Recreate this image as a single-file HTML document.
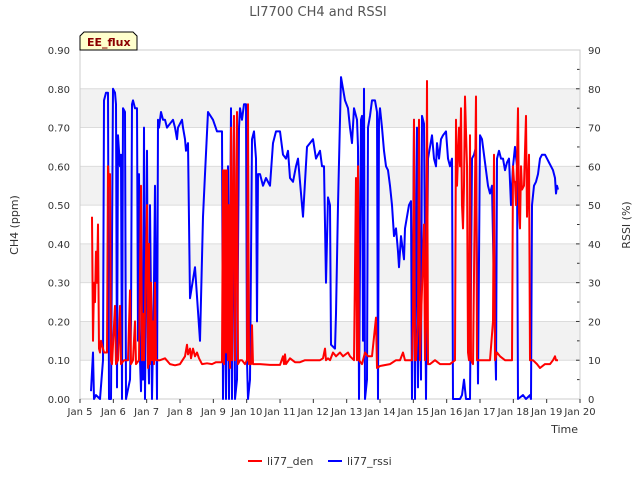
<!DOCTYPE html>
<html><head><meta charset="utf-8"><style>
body{margin:0;background:#fff;}
svg text{font-family:"DejaVu Sans","Liberation Sans",sans-serif;}
</style></head><body>
<svg id="chart" width="640" height="480" xmlns="http://www.w3.org/2000/svg">
<text x="318" y="16" text-anchor="middle" font-size="13" fill="#555">LI7700 CH4 and RSSI</text>
<g id="bands"></g>
<g id="axes"></g>
<g id="series"></g>
<g>
<path d="M84,32 L133,32 L137,36 L137,50 L80,50 L80,36 Z" fill="#ffffcc" stroke="#000" stroke-width="1"/>
<text x="87" y="46" font-size="11" font-weight="bold" fill="#8b0000">EE_flux</text>
</g>
<text transform="translate(18,225) rotate(-90)" text-anchor="middle" font-size="11" fill="#333">CH4 (ppm)</text>
<text transform="translate(630,225) rotate(-90)" text-anchor="middle" font-size="11" fill="#333">RSSI (%)</text>
<text x="578" y="433" text-anchor="end" font-size="11" fill="#333">Time</text>
<g>
<line x1="248" y1="461" x2="262" y2="461" stroke="#ff0000" stroke-width="2"/>
<text x="267" y="465" font-size="11" fill="#333">li77_den</text>
</g>
<g>
<line x1="328" y1="461" x2="342" y2="461" stroke="#0000ff" stroke-width="2"/>
<text x="347" y="465" font-size="11" fill="#333">li77_rssi</text>
</g>
</svg>
<script>
const xTickLabels=["Jan 5","Jan 6","Jan 7","Jan 8","Jan 9","Jan 10","Jan 11","Jan 12","Jan 13","Jan 14","Jan 15","Jan 16","Jan 17","Jan 18","Jan 19","Jan 20"];
const leftTicks=[0,0.1,0.2,0.3,0.4,0.5,0.6,0.7,0.8,0.9];
const rightTicks=[0,10,20,30,40,50,60,70,80,90];
const rssiT=[5.33,5.39,5.42,5.48,5.6,5.69,5.72,5.78,5.84,5.87,5.93,5.99,6.05,6.08,6.11,6.14,6.2,6.23,6.26,6.29,6.35,6.38,6.5,6.53,6.56,6.59,6.65,6.71,6.74,6.77,6.8,6.83,6.86,6.89,6.92,6.95,7.01,7.04,7.07,7.1,7.16,7.22,7.25,7.31,7.34,7.37,7.43,7.49,7.55,7.61,7.7,7.79,7.85,7.91,7.94,8.0,8.06,8.09,8.15,8.18,8.24,8.3,8.45,8.6,8.69,8.75,8.84,8.99,9.11,9.26,9.29,9.35,9.38,9.44,9.47,9.53,9.56,9.62,9.65,9.71,9.77,9.8,9.86,9.92,9.98,10.01,10.04,10.1,10.16,10.22,10.28,10.31,10.34,10.4,10.49,10.58,10.7,10.79,10.88,11.0,11.09,11.18,11.24,11.3,11.39,11.48,11.54,11.69,11.81,11.9,11.99,12.08,12.2,12.26,12.32,12.38,12.44,12.5,12.53,12.65,12.68,12.74,12.83,12.89,12.95,13.04,13.1,13.16,13.22,13.31,13.34,13.37,13.43,13.46,13.49,13.52,13.55,13.61,13.64,13.7,13.76,13.85,13.91,13.94,13.97,14.0,14.06,14.12,14.18,14.24,14.3,14.36,14.42,14.48,14.54,14.57,14.63,14.69,14.72,14.75,14.81,14.87,14.93,14.96,15.02,15.05,15.11,15.14,15.17,15.2,15.23,15.26,15.32,15.38,15.44,15.5,15.56,15.62,15.68,15.71,15.77,15.83,15.89,15.98,16.04,16.1,16.16,16.19,16.4,16.46,16.52,16.58,16.7,16.76,16.82,16.88,16.94,17.0,17.06,17.12,17.18,17.24,17.3,17.36,17.42,17.48,17.51,17.57,17.63,17.69,17.75,17.81,17.87,17.93,17.99,18.05,18.11,18.14,18.29,18.38,18.5,18.53,18.56,18.62,18.68,18.74,18.8,18.86,18.95,19.01,19.07,19.13,19.19,19.25,19.28,19.31,19.34];
const rssiV=[2,12,0,1,0,10,77,79,79,0,0,80,79,76,3,68,60,63,0,75,74,0,5,20,76,77,75,75,15,58,10,2,18,5,70,0,64,15,4,50,0,30,55,0,72,70,74,72,72,70,71,72,70,67,70,71,72,70,67,64,66,26,34,15,47,58,74,72,69,69,0,50,0,60,0,75,0,72,0,5,70,75,72,76,76,10,0,5,67,69,62,20,58,58,55,57,55,66,69,69,63,62,64,57,56,60,62,47,65,66,67,62,64,60,60,30,52,50,14,13,22,50,83,80,77,75,70,66,75,72,65,0,72,73,15,80,0,5,70,73,77,77,74,0,72,75,70,64,60,59,55,50,42,44,38,34,42,38,36,44,47,50,51,0,72,0,70,3,70,20,5,73,71,0,62,65,68,62,60,66,62,67,68,69,62,60,62,0,0,1,5,0,0,62,63,65,4,68,67,63,59,55,53,55,28,5,62,64,62,62,59,61,62,50,60,65,60,0,1,0,1,0,50,55,56,58,62,63,63,62,61,60,59,57,53,55,54];
const denT=[5.36,5.39,5.42,5.45,5.48,5.51,5.54,5.57,5.6,5.63,5.72,5.81,5.84,5.87,5.9,5.93,5.96,6.05,6.08,6.14,6.2,6.23,6.32,6.44,6.5,6.53,6.59,6.65,6.68,6.77,6.83,6.86,6.89,6.92,7.01,7.04,7.07,7.1,7.13,7.16,7.19,7.22,7.25,7.28,7.4,7.55,7.7,7.85,8.0,8.15,8.21,8.24,8.3,8.33,8.39,8.45,8.51,8.57,8.66,8.81,8.96,9.08,9.26,9.29,9.32,9.35,9.38,9.41,9.44,9.47,9.5,9.53,9.56,9.59,9.62,9.65,9.71,9.74,9.8,9.86,9.95,10.01,10.04,10.07,10.13,10.16,10.19,10.4,10.7,11.0,11.09,11.12,11.15,11.18,11.3,11.45,11.6,11.75,11.9,12.05,12.2,12.29,12.35,12.38,12.44,12.5,12.59,12.68,12.8,12.89,13.04,13.1,13.22,13.28,13.31,13.34,13.37,13.46,13.55,13.64,13.76,13.88,13.91,14.0,14.3,14.48,14.6,14.69,14.75,14.9,14.96,14.99,15.02,15.05,15.08,15.14,15.17,15.2,15.23,15.32,15.35,15.38,15.41,15.44,15.5,15.65,15.8,16.1,16.25,16.28,16.31,16.37,16.4,16.43,16.46,16.49,16.52,16.55,16.61,16.64,16.67,16.7,16.73,16.79,16.88,16.91,17.0,17.15,17.3,17.39,17.42,17.45,17.51,17.6,17.75,17.9,17.96,17.99,18.02,18.05,18.08,18.11,18.14,18.17,18.2,18.23,18.26,18.32,18.38,18.41,18.47,18.5,18.59,18.71,18.8,18.95,19.1,19.19,19.25,19.28,19.34];
const denV=[0.47,0.15,0.3,0.25,0.38,0.3,0.45,0.13,0.12,0.15,0.12,0.12,0.6,0.55,0.58,0.1,0.09,0.24,0.09,0.1,0.24,0.09,0.1,0.1,0.28,0.09,0.1,0.2,0.09,0.1,0.55,0.1,0.22,0.1,0.5,0.08,0.4,0.09,0.3,0.1,0.2,0.09,0.3,0.1,0.1,0.105,0.09,0.087,0.09,0.11,0.14,0.115,0.13,0.105,0.13,0.11,0.12,0.105,0.09,0.092,0.09,0.095,0.095,0.59,0.09,0.59,0.12,0.59,0.1,0.5,0.08,0.7,0.1,0.5,0.73,0.1,0.74,0.09,0.1,0.1,0.09,0.1,0.76,0.09,0.09,0.19,0.09,0.09,0.088,0.088,0.11,0.09,0.115,0.09,0.105,0.095,0.095,0.1,0.1,0.1,0.1,0.105,0.13,0.1,0.105,0.1,0.12,0.11,0.12,0.11,0.12,0.11,0.1,0.57,0.1,0.6,0.1,0.09,0.12,0.11,0.11,0.21,0.08,0.085,0.09,0.1,0.1,0.12,0.1,0.1,0.1,0.2,0.72,0.1,0.1,0.2,0.72,0.1,0.2,0.45,0.1,0.2,0.82,0.09,0.09,0.1,0.09,0.09,0.1,0.72,0.55,0.7,0.6,0.75,0.5,0.44,0.55,0.78,0.6,0.12,0.1,0.68,0.1,0.09,0.78,0.1,0.1,0.1,0.1,0.2,0.63,0.1,0.12,0.11,0.1,0.1,0.1,0.6,0.56,0.56,0.5,0.61,0.75,0.48,0.44,0.6,0.54,0.55,0.73,0.47,0.63,0.1,0.1,0.09,0.08,0.09,0.09,0.1,0.11,0.1,0.1];

const NS="http://www.w3.org/2000/svg";
const X0=80,X1=580,Y0=399,Y1=50;
function xScale(t){return X0+(t-5)/15*(X1-X0);}
function yLeft(v){return Y0-v/0.9*(Y0-Y1);}
function yRight(v){return Y0-v/90*(Y0-Y1);}
function mk(tag,attrs,parent){const e=document.createElementNS(NS,tag);for(const k in attrs)e.setAttribute(k,attrs[k]);parent.appendChild(e);return e;}
const bands=document.getElementById('bands'),axes=document.getElementById('axes'),series=document.getElementById('series');
mk('rect',{x:X0,y:Y1,width:X1-X0,height:Y0-Y1,fill:'#fff'},bands);
for(let i=0;i<leftTicks.length-1;i++){
  if(i%2===1){const r=mk('rect',{x:X0,y:yLeft(leftTicks[i+1]),width:X1-X0,height:yLeft(leftTicks[i])-yLeft(leftTicks[i+1]),fill:'#f2f2f2'},bands);
  
  }
}
leftTicks.forEach(v=>{
  const g=mk('line',{x1:X0,x2:X1,y1:yLeft(v),y2:yLeft(v),stroke:'#dcdcdc','stroke-width':1},bands);
  
  
  const t=mk('text',{x:X0-10,y:yLeft(v)+4,'text-anchor':'end','font-size':10,fill:'#333'},axes);
  t.textContent=v.toFixed(2);
  
  
});
rightTicks.forEach(v=>{
  const t=mk('text',{x:X1+8,y:yRight(v)+4,'font-size':10,fill:'#333'},axes);
  t.textContent=v;
  
  
  mk('line',{x1:X1,x2:X1-4,y1:yRight(v),y2:yRight(v),stroke:'#333'},axes);
  if(v<90){mk('line',{x1:X1,x2:X1-3,y1:yRight(v+5),y2:yRight(v+5),stroke:'#333'},axes);}
});
mk('rect',{x:X0,y:Y1,width:X1-X0,height:Y0-Y1,fill:'none',stroke:'#ccc'},axes);
xTickLabels.forEach((lab,i)=>{
  const x=xScale(5+i);
  mk('line',{x1:x,x2:x,y1:Y0,y2:Y0+4,stroke:'#333'},axes);
  const t=mk('text',{x:x,y:Y0+16,'text-anchor':'middle','font-size':10,fill:'#333'},axes);
  t.textContent=lab;
  
  
});
function line(T,V,ys,color,name){
  const d=T.map((t,i)=>(i?'L':'M')+xScale(t).toFixed(1)+','+ys(V[i]).toFixed(1)).join(' ');
  const p=mk('path',{d:d,fill:'none',stroke:color,'stroke-width':2,'stroke-linejoin':'round'},series);
  
  
}
line(rssiT,rssiV,yRight,'#0000ff','rssi-line');
line(denT,denV,yLeft,'#ff0000','ch4-density-line');
</script>
</body></html>
